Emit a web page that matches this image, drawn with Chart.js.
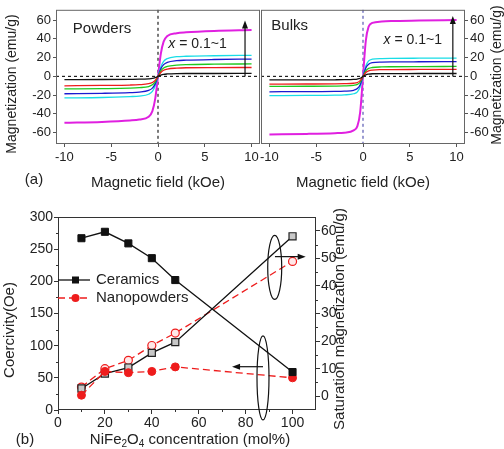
<!DOCTYPE html>
<html>
<head>
<meta charset="utf-8">
<script src="https://cdn.jsdelivr.net/npm/chart.js@4/dist/chart.umd.min.js"></script>
<style>
  body { margin: 0; background: #fff; }
  #fig { position: relative; width: 504px; height: 449px; overflow: hidden; }
  canvas { position: absolute; }
</style>
</head>
<body>
<div id="fig">
  <canvas id="powders" width="262" height="200" style="left:0;top:0"></canvas>
  <canvas id="bulks" width="264" height="200" style="left:240px;top:0"></canvas>
  <canvas id="conc" width="504" height="249" style="left:0;top:200px"></canvas>
</div>
<script>
// ---- panel (a): magnetization loops, field in kOe ----
const field = [-10, -6, -3, -2, -1, -0.6, -0.3, 0, 0.3, 0.6, 1, 2, 3, 6, 10];

// powders, x = 0.1 ... 1
const powders01 = [-3.4, -3.3, -3.1, -3.0, -2.6, -2.2, -1.4, 0, 1.4, 2.2, 2.6, 3.0, 3.1, 3.1, 3.2];
const powders02 = [-10, -9.6, -9.2, -8.8, -7.8, -6.5, -4.2, 0, 4.2, 6.5, 7.8, 8.8, 9.2, 9.4, 9.5];
const powders03 = [-13.3, -13, -12.5, -12, -10.8, -9, -5.8, 0, 5.8, 9, 10.8, 12, 12.5, 13, 13.3];
const powders04 = [-18.5, -18, -17.3, -16.8, -15, -12.5, -8, 0, 8, 12.5, 15, 16.8, 17.3, 18, 18.5];
const powders05 = [-23, -22.5, -21.5, -21, -19, -16, -10, 0, 10, 16, 19, 21, 21.5, 22, 22.5];
const powders10 = [-49.5, -48.5, -47, -46, -43, -37, -24, 0, 24, 37, 43, 46, 47, 48.5, 49.5];

// bulks, x = 0.1 ... 1
const bulks01 = [-3.8, -3.7, -3.6, -3.5, -3.2, -2.8, -2.0, 0, 1.7, 2.4, 2.8, 3.0, 3.0, 3.1, 3.1];
const bulks02 = [-8.2, -8.1, -8.0, -7.8, -7.3, -6.5, -4.5, 0, 4.2, 6.0, 6.8, 7.2, 7.3, 7.4, 7.5];
const bulks03 = [-10.6, -10.5, -10.3, -10.1, -9.5, -8.5, -6, 0, 6, 8.5, 9.5, 10.1, 10.3, 10.5, 10.6];
const bulks04 = [-16.4, -16.2, -16, -15.7, -14.8, -13, -9, 0, 9, 13, 14.6, 15.2, 15.4, 15.6, 15.7];
const bulks05 = [-20.5, -20.3, -20, -19.7, -18.5, -16.5, -11, 0, 11, 16.5, 18.3, 19, 19.2, 19.4, 19.5];
const bulks10 = [-62, -61.3, -60.5, -60, -57.5, -53, -38, 0, 38, 53, 57, 58.5, 59, 59.5, 60];

const loopColors = ['#111111', '#ee1c1c', '#1ec81e', '#1a1ad0', '#19dde6', '#e020e0'];
const fieldTicks = [-10, -5, 0, 5, 10];
const magTicks = [-60, -40, -20, 0, 20, 40, 60];

// ---- panel (b): coercivity and saturation magnetization ----
const conc = [10, 20, 30, 40, 50, 100];
const ceramicsHc = [267, 277, 259, 236, 202, 59];
const nanoHc = [23, 60, 58, 60, 67, 50];
const ceramicsMs = [2.8, 8.2, 10.4, 15.7, 19.6, 58];
const nanoMs = [3.3, 10, 13, 18.4, 22.9, 48.9];
const concTicks = [0, 20, 40, 60, 80, 100];
const hcTicks = [0, 50, 100, 150, 200, 250, 300];
const msTicks = [0, 10, 20, 30, 40, 50, 60];

const FONT = "'Liberation Sans', Arial, sans-serif";
const INK = '#222';

function setTicks(list) {
  return scale => { scale.ticks = list.map(v => ({ value: v })); };
}

function vtext(ctx, text, x, y, size) {
  ctx.save();
  ctx.translate(x, y);
  ctx.rotate(-Math.PI / 2);
  ctx.font = size + 'px ' + FONT;
  ctx.fillStyle = INK;
  ctx.textAlign = 'center';
  ctx.textBaseline = 'middle';
  ctx.fillText(text, 0, 0);
  ctx.restore();
}

function htext(ctx, text, x, y, size, align) {
  ctx.font = size + 'px ' + FONT;
  ctx.fillStyle = INK;
  ctx.textAlign = align || 'center';
  ctx.textBaseline = 'middle';
  ctx.fillText(text, x, y);
}

function arrow(ctx, x1, y1, x2, y2) {
  const a = Math.atan2(y2 - y1, x2 - x1), L = 8, W = 3;
  ctx.beginPath();
  ctx.moveTo(x1, y1);
  ctx.lineTo(x2 - 6 * Math.cos(a), y2 - 6 * Math.sin(a));
  ctx.stroke();
  ctx.beginPath();
  ctx.moveTo(x2, y2);
  ctx.lineTo(x2 - L * Math.cos(a) + W * Math.sin(a), y2 - L * Math.sin(a) - W * Math.cos(a));
  ctx.lineTo(x2 - L * Math.cos(a) - W * Math.sin(a), y2 - L * Math.sin(a) + W * Math.cos(a));
  ctx.closePath();
  ctx.fill();
}

function xLabel(ctx, x, y, size) {
  // "x = 0.1~1" with italic x
  ctx.font = 'italic ' + size + 'px ' + FONT;
  ctx.fillStyle = INK;
  ctx.textAlign = 'left';
  ctx.textBaseline = 'middle';
  ctx.fillText('x', x, y);
  const w = ctx.measureText('x').width;
  ctx.font = size + 'px ' + FONT;
  ctx.fillText(' = 0.1~1', x + w, y);
}

function loopChart(id, curves, cfg) {
  const ctx = document.getElementById(id).getContext('2d');
  const datasets = curves.map((ys, i) => ({
    data: field.map((h, k) => ({ x: h, y: ys[k] })),
    borderColor: loopColors[i],
    borderWidth: i === 5 ? 2 : 1.3,
    pointRadius: 0,
    cubicInterpolationMode: 'monotone',
  }));
  const decor = {
    id: 'decor-' + id,
    beforeDatasetsDraw(chart) {
      const c = chart.ctx, a = chart.chartArea;
      const sx = chart.scales.x, sy = chart.scales.y;
      c.save();
      c.lineWidth = 1.2;
      c.setLineDash([3, 3]);
      c.strokeStyle = '#222';
      c.beginPath();
      c.moveTo(a.left, sy.getPixelForValue(0));
      c.lineTo(a.right, sy.getPixelForValue(0));
      c.stroke();
      c.strokeStyle = cfg.zeroColor;
      c.beginPath();
      c.moveTo(sx.getPixelForValue(0), a.top);
      c.lineTo(sx.getPixelForValue(0), a.bottom);
      c.stroke();
      c.restore();
    },
    afterDraw(chart) {
      const c = chart.ctx, a = chart.chartArea;
      const sx = chart.scales.x, sy = chart.scales.y;
      c.save();
      c.strokeStyle = '#666';
      c.lineWidth = 1;
      c.strokeRect(a.left + 0.5, a.top + 0.5, a.right - a.left - 1, a.bottom - a.top);
      c.strokeStyle = '#111';
      c.fillStyle = '#111';
      c.lineWidth = 1.2;
      arrow(c, sx.getPixelForValue(cfg.arrowX), sy.getPixelForValue(0),
        sx.getPixelForValue(cfg.arrowX), sy.getPixelForValue(cfg.arrowTop));
      htext(c, cfg.name, sx.getPixelForValue(cfg.nameAt[0]), sy.getPixelForValue(cfg.nameAt[1]), 15, 'left');
      xLabel(c, sx.getPixelForValue(cfg.xAt[0]), sy.getPixelForValue(cfg.xAt[1]), 14);
      htext(c, 'Magnetic field (kOe)', (a.left + a.right) / 2, 183, 15);
      vtext(c, 'Magnetization (emu/g)', cfg.titleX, cfg.titleY, 14);
      if (cfg.panel) htext(c, cfg.panel, 34, 180, 15);
      c.restore();
    }
  };
  return new Chart(ctx, {
    type: 'line',
    data: { datasets },
    plugins: [decor],
    options: {
      responsive: false,
      animation: false,
      layout: { padding: cfg.padding },
      plugins: { legend: { display: false }, tooltip: { enabled: false } },
      scales: {
        x: {
          type: 'linear', min: -10.9, max: 10.9,
          afterBuildTicks: setTicks(fieldTicks),
          afterFit: s => { s.height = 57; },
          grid: { drawOnChartArea: false, tickLength: 4, color: '#555' },
          border: { display: false },
          ticks: { font: { family: FONT, size: 13 }, color: INK, padding: 3, maxRotation: 0, autoSkip: false },
        },
        y: {
          type: 'linear', position: cfg.yPos, min: -71, max: 71,
          afterBuildTicks: setTicks(magTicks),
          afterFit: s => { s.width = cfg.yWidth; },
          grid: { drawOnChartArea: false, tickLength: 3, color: '#555' },
          border: { display: false },
          ticks: { font: { family: FONT, size: 13 }, color: INK, padding: 2, autoSkip: false },
        },
      },
    },
  });
}

loopChart('powders', [powders01, powders02, powders03, powders04, powders05, powders10], {
  padding: { top: 6, right: 2, left: 0, bottom: 0 },
  yPos: 'left', yWidth: 56, titleX: 12, titleY: 84, zeroColor: '#222',
  arrowX: 9.3, arrowTop: 59.5, name: 'Powders', nameAt: [-9.1, 51], xAt: [1.1, 34], panel: '(a)',
});

loopChart('bulks', [bulks01, bulks02, bulks03, bulks04, bulks05, bulks10], {
  padding: { top: 6, right: 0, left: 21, bottom: 0 },
  yPos: 'right', yWidth: 39, titleX: 257, titleY: 75, zeroColor: '#5a5ab4',
  arrowX: 9.6, arrowTop: 64.5, name: 'Bulks', nameAt: [-9.8, 54], xAt: [2.2, 39],
});

// ---- panel (b) ----
const concDecor = {
  id: 'concDecor',
  afterDraw(chart) {
    const c = chart.ctx, a = chart.chartArea;
    const sx = chart.scales.x, sy = chart.scales.y, sy2 = chart.scales.y2;
    c.save();
    c.strokeStyle = '#333';
    c.lineWidth = 1;
    c.strokeRect(a.left + 0.5, a.top + 0.5, a.right - a.left - 1, a.bottom - a.top - 1);
    // minor ticks
    c.beginPath();
    for (let v = 25; v < 300; v += 50) {
      const y = Math.round(sy.getPixelForValue(v)) + 0.5;
      c.moveTo(a.left - 2, y); c.lineTo(a.left, y);
    }
    for (let v = 5; v < 65; v += 10) {
      const y = Math.round(sy2.getPixelForValue(v)) + 0.5;
      c.moveTo(a.right, y); c.lineTo(a.right + 2, y);
    }
    for (let v = 10; v < 110; v += 20) {
      const x = Math.round(sx.getPixelForValue(v)) + 0.5;
      c.moveTo(x, a.bottom); c.lineTo(x, a.bottom + 2);
    }
    c.stroke();

    // legend
    c.lineWidth = 1.3;
    c.strokeStyle = '#111';
    c.beginPath(); c.moveTo(a.left, 80); c.lineTo(a.left + 32, 80); c.stroke();
    c.fillStyle = '#111';
    c.fillRect(a.left + 14, 76.5, 7, 7);
    htext(c, 'Ceramics', 96, 80, 15, 'left');
    c.strokeStyle = '#ee1c1c';
    c.setLineDash([7, 4]);
    c.beginPath(); c.moveTo(a.left, 98); c.lineTo(a.left + 32, 98); c.stroke();
    c.setLineDash([]);
    c.fillStyle = '#ee1c1c';
    c.beginPath(); c.arc(a.left + 17.5, 98, 4, 0, Math.PI * 2); c.fill();
    htext(c, 'Nanopowders', 96, 98, 15, 'left');

    // ellipses with arrows pointing at the axes they belong to
    c.strokeStyle = '#111';
    c.fillStyle = '#111';
    c.lineWidth = 1.2;
    c.beginPath();
    c.ellipse(sx.getPixelForValue(92.4), sy.getPixelForValue(221.6), 7, 32, 0, 0, Math.PI * 2);
    c.stroke();
    arrow(c, sx.getPixelForValue(92.5), sy.getPixelForValue(238.4), sx.getPixelForValue(105.6), sy.getPixelForValue(238.4));
    c.beginPath();
    c.ellipse(sx.getPixelForValue(87.4), sy.getPixelForValue(49.8), 6, 42, 0, 0, Math.PI * 2);
    c.stroke();
    arrow(c, sx.getPixelForValue(87.4), sy.getPixelForValue(67.3), sx.getPixelForValue(74.2), sy.getPixelForValue(67.3));

    // axis titles
    vtext(c, 'Coercivity(Oe)', 10, 130, 15);
    vtext(c, 'Saturation magnetization (emu/g)', 340, 119, 15);
    htext(c, '(b)', 25, 240, 15);
    // NiFe2O4 with subscripts
    const parts = [['NiFe', 15, 0], ['2', 10, 4], ['O', 15, 0], ['4', 10, 4], [' concentration (mol%)', 15, 0]];
    let total = 0;
    parts.forEach(p => { c.font = p[1] + 'px ' + FONT; total += c.measureText(p[0]).width; });
    let x = 190 - total / 2;
    c.fillStyle = INK;
    c.textAlign = 'left';
    c.textBaseline = 'middle';
    parts.forEach(p => {
      c.font = p[1] + 'px ' + FONT;
      c.fillText(p[0], x, 240 + p[2]);
      x += c.measureText(p[0]).width;
    });
    c.restore();
  }
};

new Chart(document.getElementById('conc').getContext('2d'), {
  type: 'line',
  data: {
    labels: conc,
    datasets: [
      {
        label: 'Ceramics',
        data: conc.map((v, i) => ({ x: v, y: ceramicsHc[i] })),
        yAxisID: 'y',
        borderColor: '#111', backgroundColor: '#111', borderWidth: 1.3,
        pointStyle: 'rect', pointRadius: 5, pointBorderWidth: 1,
      },
      {
        label: 'Nanopowders',
        data: conc.map((v, i) => ({ x: v, y: nanoHc[i] })),
        yAxisID: 'y',
        borderColor: '#ee1c1c', backgroundColor: '#ee1c1c', borderWidth: 1.3, borderDash: [7, 4],
        pointStyle: 'circle', pointRadius: 4, pointBorderWidth: 1,
      },
      {
        label: 'Ceramics Ms',
        data: conc.map((v, i) => ({ x: v, y: ceramicsMs[i] })),
        yAxisID: 'y2',
        borderColor: '#111', backgroundColor: '#c8c8c8', pointBorderColor: '#222', borderWidth: 1.3,
        pointStyle: 'rect', pointRadius: 5, pointBorderWidth: 1.2,
      },
      {
        label: 'Nanopowders Ms',
        data: conc.map((v, i) => ({ x: v, y: nanoMs[i] })),
        yAxisID: 'y2',
        borderColor: '#ee1c1c', backgroundColor: '#ffe8e8', borderWidth: 1.3, borderDash: [7, 4],
        pointStyle: 'circle', pointRadius: 4, pointBorderWidth: 1.2,
      },
    ],
  },
  plugins: [concDecor],
  options: {
    responsive: false,
    animation: false,
    layout: { padding: { top: 17, left: 0, right: 0, bottom: 0 } },
    plugins: { legend: { display: false }, tooltip: { enabled: false } },
    scales: {
      x: {
        type: 'linear', min: 0, max: 110,
        afterBuildTicks: setTicks(concTicks),
        afterFit: s => { s.height = 39; },
        grid: { drawOnChartArea: false, tickLength: 4, color: '#333' },
        border: { display: false },
        ticks: { font: { family: FONT, size: 14 }, color: INK, padding: 1, maxRotation: 0, autoSkip: false },
      },
      y: {
        type: 'linear', position: 'left', min: 0, max: 300,
        afterBuildTicks: setTicks(hcTicks),
        afterFit: s => { s.width = 58; },
        grid: { drawOnChartArea: false, tickLength: 4, color: '#333' },
        border: { display: false },
        ticks: { font: { family: FONT, size: 14 }, color: INK, padding: 1, autoSkip: false },
      },
      y2: {
        type: 'linear', position: 'right', min: -5, max: 65,
        afterBuildTicks: setTicks(msTicks),
        afterFit: s => { s.width = 188; },
        grid: { drawOnChartArea: false, tickLength: 4, color: '#333' },
        border: { display: false },
        ticks: { font: { family: FONT, size: 14 }, color: INK, padding: 1, autoSkip: false },
      },
    },
  },
});
</script>
</body>
</html>
